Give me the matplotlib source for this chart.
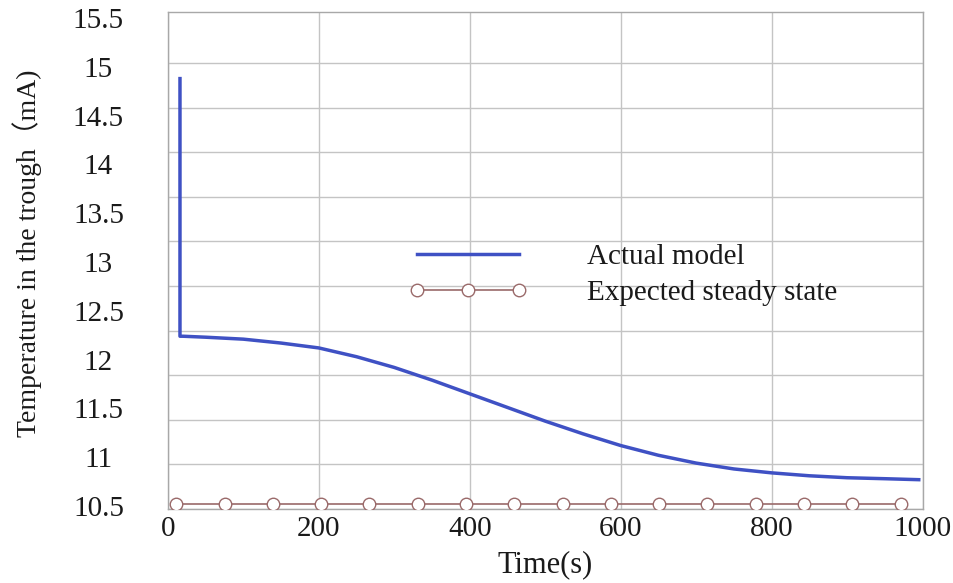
import matplotlib.pyplot as plt
import numpy as np

plt.rcParams['font.family'] = ['Liberation Serif', 'Noto Sans CJK SC']

# Actual model curve
time_actual = [16, 16, 20, 50, 100, 150, 200, 250, 300, 350, 400, 450, 500,
               550, 600, 650, 700, 750, 800, 850, 900, 950, 995]
temp_actual = [14.88, 12.24, 12.24, 12.23, 12.21, 12.17, 12.12, 12.03, 11.92,
               11.79, 11.65, 11.51, 11.37, 11.24, 11.12, 11.02, 10.94, 10.88,
               10.84, 10.81, 10.79, 10.78, 10.77]

# Expected steady state
time_ss = [11, 75, 139, 203, 267, 331, 395, 459, 523, 587, 651, 715, 779, 843, 907, 971]
temp_ss = [10.52, 10.52, 10.52, 10.52, 10.52, 10.52, 10.52, 10.52,
           10.52, 10.52, 10.52, 10.52, 10.52, 10.52, 10.52, 10.52]

x_ticks = [0, 200, 400, 600, 800, 1000]
y_ticks = [10.5, 11, 11.5, 12, 12.5, 13, 13.5, 14, 14.5, 15, 15.5]
y_labels = ['10.5', '11', '11.5', '12', '12.5', '13', '13.5', '14', '14.5', '15', '15.5']

fig = plt.figure(figsize=(9.54, 5.83), dpi=100)
ax = fig.add_axes([0.176, 0.127, 0.791, 0.852])

ax.plot(time_actual, temp_actual, color='#3f51c4', lw=2.5, solid_joinstyle='round',
        label='Actual model', zorder=3)
ax.plot(time_ss, temp_ss, color='#9a6a6a', lw=1.2, marker='o', ms=9,
        mfc='white', mec='#9a6a6a', mew=1.0, label='Expected steady state', zorder=3)

ax.set_xlim(0, 1000)
ax.set_ylim(10.47, 15.56)
ax.set_xticks(x_ticks)
ax.set_yticks(y_ticks)
ax.set_yticklabels(y_labels)
# grid lines in the picture do not sit on the labels
ax.set_yticks(np.linspace(10.47, 15.04, 11), minor=True)
ax.grid(True, axis='x', which='major', color='#c4c4c4', lw=1.0)
ax.grid(True, axis='y', which='minor', color='#c4c4c4', lw=1.0)
ax.grid(False, axis='y', which='major')
ax.set_axisbelow(True)

ax.tick_params(which='both', length=0, labelsize=21, colors='#1a1a1a')
ax.tick_params(axis='y', pad=50)
ax.tick_params(axis='x', pad=5)
for lab in ax.get_yticklabels():
    lab.set_horizontalalignment('center')

for s in ax.spines.values():
    s.set_color('#a8a8a8')
    s.set_linewidth(1.0)

ax.set_xlabel('Time(s)', fontsize=22, color='#1a1a1a', va='center')
ax.xaxis.set_label_coords(0.5, -0.113)
ax.set_ylabel('Temperature in the trough（mA)', fontsize=20, color='#1a1a1a', va='center')
ax.yaxis.set_label_coords(-0.187, 0.515)

ax.legend(loc='upper left', bbox_to_anchor=(0.318, 0.534), frameon=False,
          handlelength=4.1, handletextpad=2.05, numpoints=3, labelspacing=0.34,
          borderpad=0, borderaxespad=0, fontsize=21, labelcolor='#1a1a1a')

plt.savefig('out.png', dpi=100)
